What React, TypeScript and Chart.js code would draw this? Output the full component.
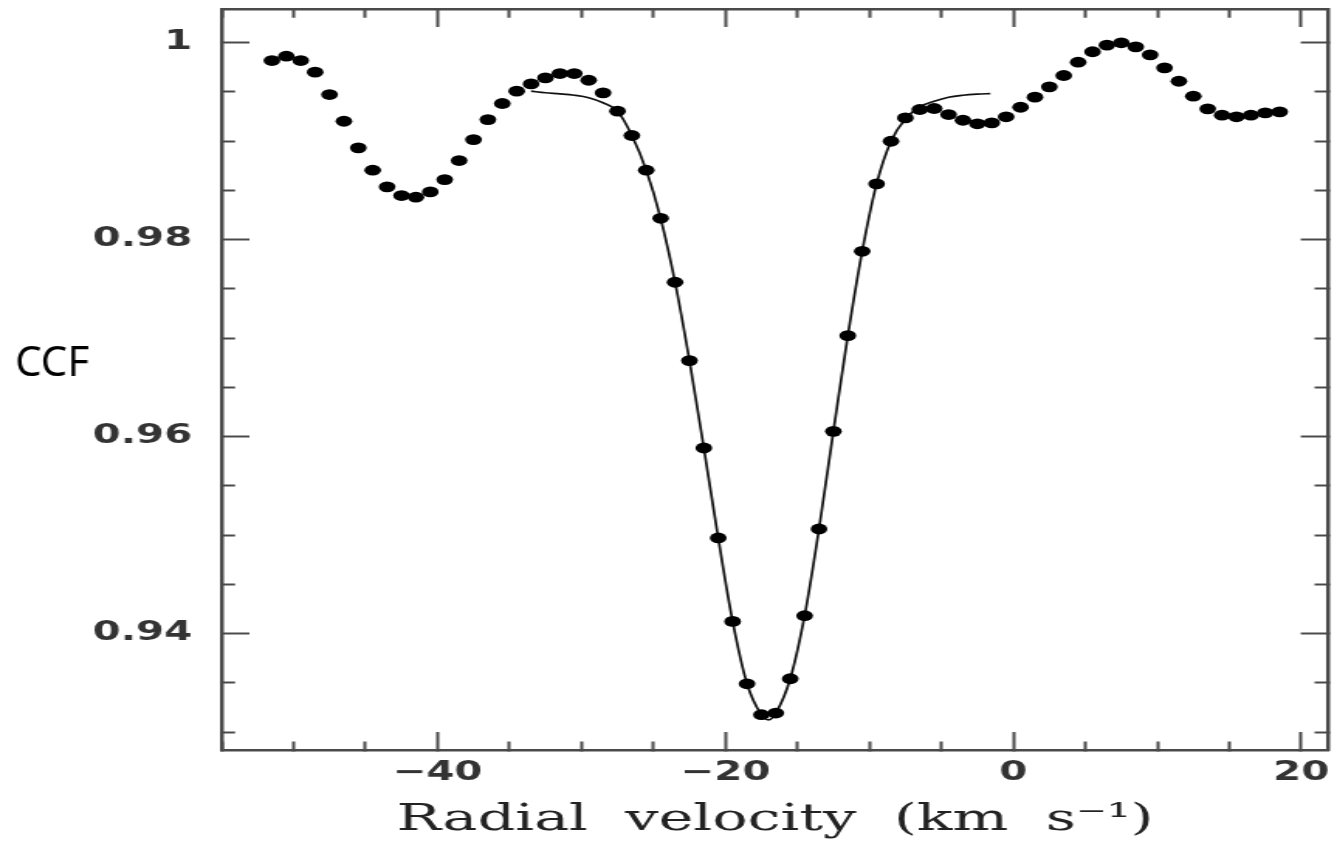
import { useEffect, useRef } from 'react';
import { Chart, registerables } from 'chart.js';

Chart.register(...registerables);

// ---------------- data ----------------
const ccfVelocity = [
  -51.5, -50.5, -49.5, -48.5, -47.5, -46.5, -45.5, -44.5, -43.5, -42.5,
  -41.5, -40.5, -39.5, -38.5, -37.5, -36.5, -35.5, -34.5, -33.5, -32.5,
  -31.5, -30.5, -29.5, -28.5, -27.5, -26.5, -25.5, -24.5, -23.5, -22.5,
  -21.5, -20.5, -19.5, -18.5, -17.5, -16.5, -15.5, -14.5, -13.5, -12.5,
  -11.5, -10.5, -9.5, -8.5, -7.5, -6.5, -5.5, -4.5, -3.5, -2.5,
  -1.5, -0.5, 0.5, 1.5, 2.5, 3.5, 4.5, 5.5, 6.5, 7.5,
  8.5, 9.5, 10.5, 11.5, 12.5, 13.5, 14.5, 15.5, 16.5, 17.5,
  18.5,
];
const ccfValue = [
  0.99817, 0.99861, 0.99817, 0.99699, 0.99472, 0.99201, 0.98931, 0.98704, 0.98535, 0.98447,
  0.9843, 0.98484, 0.98609, 0.98802, 0.99015, 0.99218, 0.99381, 0.99506, 0.9958, 0.99641,
  0.99685, 0.99685, 0.99617, 0.99489, 0.99303, 0.99056, 0.98704, 0.98216, 0.97567, 0.96772,
  0.95885, 0.94972, 0.94125, 0.93492, 0.93178, 0.93195, 0.93543, 0.94183, 0.95063, 0.96054,
  0.97025, 0.97881, 0.98565, 0.98998, 0.99235, 0.9932, 0.9933, 0.99269, 0.99211, 0.99175,
  0.99185, 0.99246, 0.99343, 0.99445, 0.9955, 0.99665, 0.998, 0.99906, 0.99973, 0.99997,
  0.99956, 0.99875, 0.99743, 0.99607, 0.99455, 0.99327, 0.99262, 0.99246, 0.99262, 0.99286,
  0.99296,
];

const fitVelocity = [
  -33.5, -32.5, -31.5, -30.5, -29.5, -28.5, -27.5, -26.5, -25.5, -24.5,
  -23.5, -22.5, -21.5, -20.5, -19.5, -18.5, -17.5, -17.0, -16.5, -15.5,
  -14.5, -13.5, -12.5, -11.5, -10.5, -9.5, -8.5, -7.5, -6.5, -5.5,
  -4.5, -3.5, -2.5, -1.6,
];
const fitValue = [
  0.99506, 0.9949, 0.99479, 0.99465, 0.9944, 0.99388, 0.99303, 0.99056, 0.98704, 0.98216,
  0.97567, 0.96772, 0.95885, 0.94972, 0.94125, 0.93492, 0.93178, 0.93125, 0.93195, 0.93543,
  0.94183, 0.95063, 0.96054, 0.97025, 0.97881, 0.98565, 0.98998, 0.99225, 0.99347, 0.99404,
  0.99445, 0.99465, 0.99476, 0.99482,
];

const X_MIN = -55;
const X_MAX = 21.9;
const X_STEP = 5;
const X_LABEL_EVERY = 20;
const Y_MIN = 0.9282;
const Y_MAX = 1.0034;
const Y_STEP = 0.005;
const Y_LABEL_EVERY = 0.02;

const xTitle = 'Radial  velocity  (km  s\u207B\u00B9)';
const yTitle = 'CCF';

// ---------------- layout / style ----------------
const PAGE_W = 1337;
const PAGE_H = 843;
const STRETCH = 1.55; // the reference figure is stretched horizontally
const CANVAS_W = Math.round(PAGE_W / STRETCH);
const CANVAS_H = PAGE_H;

const FRAME = '#4a4a4a';
const TEXT = '#333';
const MAJOR_LEN = 18;
const MINOR_LEN = 10;
const BORDER_W = 2.5;

const isMultiple = (v: number, step: number) => Math.abs(v / step - Math.round(v / step)) < 1e-6;

// ticks drawn starting at the axis line
const dashFromAxis = (major: boolean) => (major ? [] : [MINOR_LEN, 400]);
// ticks drawn starting inside the plot, ending at the axis line
const dashToAxis = (major: boolean) =>
  major ? [] : [0, MAJOR_LEN + BORDER_W / 2 - MINOR_LEN, MINOR_LEN + 2, 400];

const tickFont = { family: '"DejaVu Sans", sans-serif', size: 26, weight: 'bold' };

const fixSize = (w: number | null, h: number | null) => (s: any) => {
  if (w !== null) s.width = w;
  if (h !== null) s.height = h;
  s.paddingTop = 0;
  s.paddingBottom = 0;
  s.paddingLeft = 0;
  s.paddingRight = 0;
};

const yTitlePlugin = {
  id: 'yTitleHorizontal',
  afterDraw(chart: any) {
    const ctx = chart.ctx;
    ctx.save();
    ctx.scale(1 / STRETCH, 1);
    ctx.font = '42px "Noto Sans", sans-serif';
    ctx.fillStyle = '#000';
    ctx.textAlign = 'left';
    ctx.textBaseline = 'alphabetic';
    ctx.fillText(yTitle, 15, 376);
    ctx.restore();
  },
};

export default function App() {
  const ref = useRef<HTMLCanvasElement | null>(null);

  useEffect(() => {
    const canvas = ref.current;
    if (!canvas) return;

    const baseGrid = {
      drawOnChartArea: false,
      drawTicks: true,
      tickLength: -MAJOR_LEN,
      tickWidth: 2,
      tickColor: FRAME,
    };
    const border = { display: true, color: FRAME, width: BORDER_W };

    const chart = new Chart(canvas, {
      type: 'scatter',
      data: {
        datasets: [
          {
            label: 'CCF',
            data: ccfVelocity.map((v, i) => ({ x: v, y: ccfValue[i] })),
            pointRadius: 5.4,
            pointHoverRadius: 5.4,
            pointBackgroundColor: '#000',
            pointBorderWidth: 0,
            showLine: false,
          },
          {
            label: 'Fit',
            data: fitVelocity.map((v, i) => ({ x: v, y: fitValue[i] })),
            showLine: true,
            borderColor: '#111',
            borderWidth: 1.7,
            pointRadius: 0,
            pointHoverRadius: 0,
            cubicInterpolationMode: 'monotone',
            fill: false,
          },
        ],
      },
      options: {
        animation: false,
        responsive: false,
        devicePixelRatio: 1,
        events: [],
        layout: { padding: { left: 0, right: 2, top: 9, bottom: 0 } },
        plugins: {
          legend: { display: false },
          tooltip: { enabled: false },
        },
        scales: {
          x: {
            type: 'linear',
            position: 'bottom',
            min: X_MIN,
            max: X_MAX,
            afterFit: fixSize(null, CANVAS_H - 750),
            border,
            grid: {
              ...baseGrid,
              tickBorderDash: (c: any) => dashFromAxis(isMultiple(c.tick.value, X_LABEL_EVERY)),
            },
            ticks: {
              stepSize: X_STEP,
              includeBounds: false,
              autoSkip: false,
              maxRotation: 0,
              padding: 26,
              color: TEXT,
              font: tickFont,
              callback: (v: any) => {
                const n = Number(v);
                if (!isMultiple(n, X_LABEL_EVERY)) return '';
                return n < 0 ? '\u2212' + Math.abs(n) : String(n);
              },
            },
            title: {
              display: true,
              text: xTitle,
              color: '#222',
              font: { family: '"DejaVu Serif", serif', size: 38 },
              padding: { top: 0, bottom: 0 },
            },
          },
          x2: {
            type: 'linear',
            position: 'top',
            min: X_MIN,
            max: X_MAX,
            afterFit: fixSize(null, 0),
            border,
            grid: {
              ...baseGrid,
              tickBorderDash: (c: any) => dashToAxis(isMultiple(c.tick.value, X_LABEL_EVERY)),
            },
            ticks: {
              stepSize: X_STEP,
              includeBounds: false,
              autoSkip: false,
              maxRotation: 0,
              padding: 0,
              callback: () => '',
            },
          },
          y: {
            type: 'linear',
            position: 'left',
            min: Y_MIN,
            max: Y_MAX,
            afterFit: fixSize(143, null),
            border,
            grid: {
              ...baseGrid,
              tickBorderDash: (c: any) => dashToAxis(isMultiple(c.tick.value, Y_LABEL_EVERY)),
            },
            ticks: {
              stepSize: Y_STEP,
              includeBounds: false,
              autoSkip: false,
              padding: 37,
              color: TEXT,
              font: tickFont,
              callback: (v: any) => {
                const n = Number(v);
                if (!isMultiple(n, Y_LABEL_EVERY)) return '';
                return Math.abs(n - 1) < 1e-9 ? '1' : n.toFixed(2);
              },
            },
          },
          y2: {
            type: 'linear',
            position: 'right',
            min: Y_MIN,
            max: Y_MAX,
            afterFit: fixSize(0, null),
            border,
            grid: {
              ...baseGrid,
              tickBorderDash: (c: any) => dashFromAxis(isMultiple(c.tick.value, Y_LABEL_EVERY)),
            },
            ticks: {
              stepSize: Y_STEP,
              includeBounds: false,
              autoSkip: false,
              padding: 0,
              callback: () => '',
            },
          },
        },
      },
      plugins: [yTitlePlugin],
    } as any);

    return () => chart.destroy();
  }, []);

  return (
    <div
      style={{
        position: 'absolute',
        left: 0,
        top: 0,
        width: PAGE_W,
        height: PAGE_H,
        background: '#fff',
        overflow: 'hidden',
      }}
    >
      <canvas
        ref={ref}
        width={CANVAS_W}
        height={CANVAS_H}
        style={{ display: 'block', width: PAGE_W + 'px', height: PAGE_H + 'px' }}
      />
    </div>
  );
}
